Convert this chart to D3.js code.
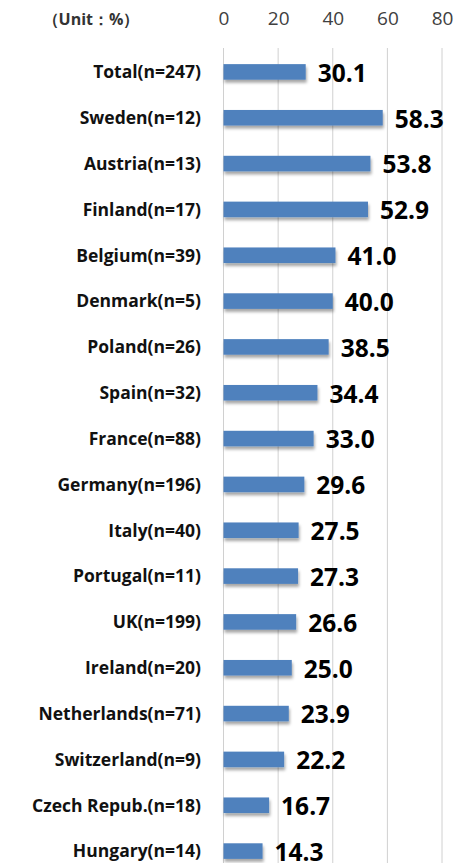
<!DOCTYPE html>
<html>
<head>
<meta charset="utf-8">
<script src="https://cdn.jsdelivr.net/npm/d3@7"></script>
<style>
  body { margin: 0; background: #fff; }
</style>
</head>
<body>
<div id="wrapper"></div>
<script>
const countries = ["Total(n=247)", "Sweden(n=12)", "Austria(n=13)", "Finland(n=17)", "Belgium(n=39)",
    "Denmark(n=5)", "Poland(n=26)", "Spain(n=32)", "France(n=88)", "Germany(n=196)", "Italy(n=40)",
    "Portugal(n=11)", "UK(n=199)", "Ireland(n=20)", "Netherlands(n=71)", "Switzerland(n=9)",
    "Czech Repub.(n=18)", "Hungary(n=14)"];
const values = [30.1, 58.3, 53.8, 52.9, 41.0, 40.0, 38.5, 34.4, 33.0, 29.6, 27.5, 27.3, 26.6, 25.0, 23.9, 22.2, 16.7, 14.3];
const ticks = [0, 20, 40, 60, 80];
const unitLabel = "（Unit：%）";

let wSvg = 462;
let hSvg = 863;

let svg = d3.select("#wrapper")
    .append("svg")
    .attr("width", wSvg)
    .attr("height", hSvg);

let defs = svg.append("defs");
let shadow = defs.append("filter")
    .attr("id", "shadow")
    .attr("x", "-10%").attr("y", "-30%")
    .attr("width", "130%").attr("height", "200%");
shadow.append("feDropShadow")
    .attr("dx", 1).attr("dy", 3)
    .attr("stdDeviation", 1.5)
    .attr("flood-color", "#000")
    .attr("flood-opacity", 0.35);

let xScale = d3.scaleLinear()
    .domain([0, 80])
    .range([223.5, 442]);

let yScale = d3.scaleBand()
    .domain(countries)
    .range([49, 874])
    .paddingInner(0.66)
    .paddingOuter(0.33);

// gridlines
svg.append("g")
    .selectAll("line")
    .data(ticks)
    .enter()
    .append("line")
    .attr("x1", d => xScale(d))
    .attr("x2", d => xScale(d))
    .attr("y1", 48)
    .attr("y2", hSvg)
    .attr("stroke", "#d0d0d0")
    .attr("stroke-width", 1);

// top axis labels
let xAxis = d3.axisTop(xScale)
    .tickValues(ticks)
    .tickSize(0)
    .tickPadding(0);

let gAxis = svg.append("g")
    .attr("transform", "translate(0,25)")
    .call(xAxis);
gAxis.select(".domain").remove();
gAxis.selectAll("text")
    .attr("font-family", "'Open Sans', sans-serif")
    .attr("font-size", 19)
    .attr("fill", "#404040");

svg.append("text")
    .attr("x", 91)
    .attr("y", 25)
    .attr("text-anchor", "middle")
    .attr("font-family", "'Open Sans', sans-serif")
    .attr("font-weight", "bold")
    .attr("font-size", 16)
    .attr("fill", "#333")
    .text(unitLabel);

let rows = svg.append("g")
    .selectAll("g")
    .data(countries)
    .enter()
    .append("g");

rows.append("rect")
    .attr("x", xScale(0))
    .attr("y", d => yScale(d))
    .attr("height", yScale.bandwidth())
    .attr("width", (d, i) => xScale(values[i]) - xScale(0))
    .attr("fill", "#4f81bd")
    .attr("filter", "url(#shadow)");

rows.append("text")
    .attr("x", 201)
    .attr("y", d => yScale(d) + yScale.bandwidth() / 2)
    .attr("dy", "0.36em")
    .attr("text-anchor", "end")
    .attr("font-family", "'Open Sans', sans-serif")
    .attr("font-weight", "bold")
    .attr("font-size", 17.5)
    .attr("fill", "#111")
    .text(d => d);

rows.append("text")
    .attr("x", (d, i) => xScale(values[i]) + 12)
    .attr("y", d => yScale(d) + yScale.bandwidth() / 2)
    .attr("dy", "0.4em")
    .attr("font-family", "'Open Sans', sans-serif")
    .attr("font-weight", "bold")
    .attr("font-size", 24.5)
    .attr("fill", "#000")
    .text((d, i) => values[i].toFixed(1));
</script>
</body>
</html>
